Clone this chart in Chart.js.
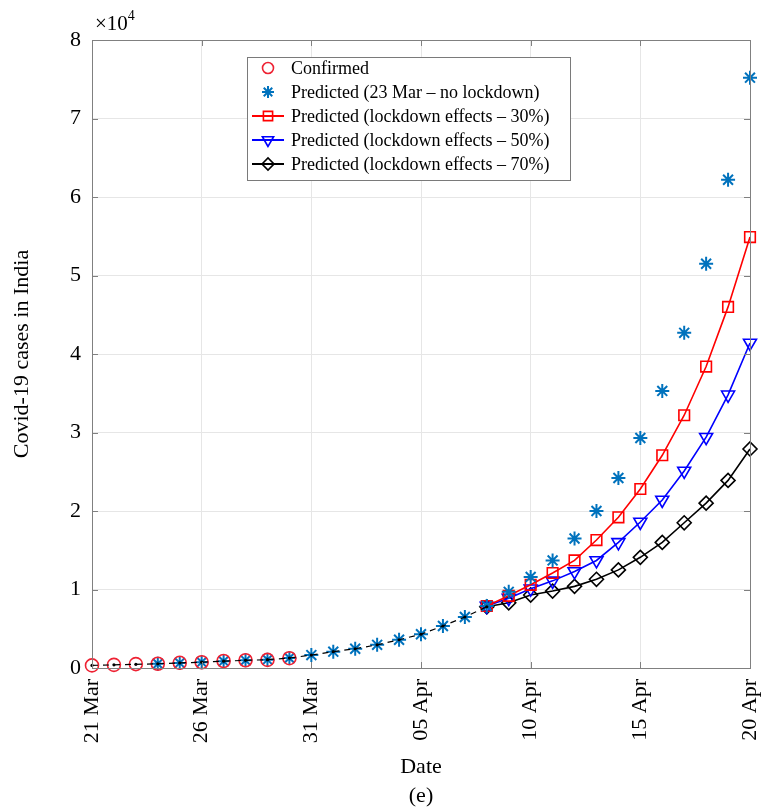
<!DOCTYPE html>
<html>
<head>
<meta charset="utf-8">
<script src="https://cdn.jsdelivr.net/npm/chart.js@4.4.1/dist/chart.umd.min.js"></script>
<style>
    html, body { margin: 0; padding: 0; background: #fff; }
    #wrap { width: 778px; height: 812px; }
</style>
</head>
<body>
<div id="wrap"><canvas id="myChart" width="778" height="812"></canvas></div>
<script>
// x = day index, 0 = 21 Mar ... 30 = 20 Apr
var tickLabels = ['21 Mar', '26 Mar', '31 Mar', '05 Apr', '10 Apr', '15 Apr', '20 Apr'];

var confirmedStart = 0;
var confirmed = [330, 400, 500, 540, 660, 730, 890, 990, 1030, 1250];

var noLockdownStart = 3;
var noLockdown = [540, 650, 740, 870, 980, 1060, 1270, 1650, 2080, 2450, 2950, 3600, 4300, 5350,
    6500, 7900, 9700, 11600, 13700, 16500, 20000, 24200, 29300, 35300, 42700, 51500, 62200, 75200];

var fitStart = 0;
var fitted = [330, 400, 470, 540, 650, 740, 870, 980, 1060, 1270, 1650, 2080, 2450, 2950, 3600,
    4300, 5350, 6500, 7800];

var lockdownStart = 18;
var lockdown30 = [7900, 9200, 10600, 12100, 13700, 16300, 19200, 22800, 27100, 32200, 38400, 46000, 54900];
var lockdown50 = [7900, 8900, 10100, 11100, 12300, 13700, 16000, 18600, 21400, 25100, 29400, 34800, 41400];
var lockdown70 = [7800, 8300, 9300, 9800, 10400, 11300, 12500, 14100, 16000, 18500, 21000, 23900, 27900];

function pts(start, values) {
    return values.map(function (v, i) { return { x: start + i, y: v }; });
}

var serif = "'Liberation Serif', 'Times New Roman', serif";
var frameColor = '#808080';

// box, inward ticks, legend and extra labels (MATLAB look)
var decor = {
    id: 'decor',
    afterDraw: function (chart) {
        var ctx = chart.ctx;
        var a = chart.chartArea;
        var xs = chart.scales.x, ys = chart.scales.y;
        ctx.save();

        ctx.strokeStyle = frameColor;
        ctx.lineWidth = 1;
        ctx.strokeRect(a.left + 0.5, a.top + 0.5, a.right - a.left, a.bottom - a.top);

        ctx.beginPath();
        xs.ticks.forEach(function (t) {
            var px = Math.round(xs.getPixelForValue(t.value)) + 0.5;
            ctx.moveTo(px, a.bottom); ctx.lineTo(px, a.bottom - 6);
            ctx.moveTo(px, a.top); ctx.lineTo(px, a.top + 6);
        });
        ys.ticks.forEach(function (t) {
            var py = Math.round(ys.getPixelForValue(t.value)) + 0.5;
            ctx.moveTo(a.left, py); ctx.lineTo(a.left + 6, py);
            ctx.moveTo(a.right, py); ctx.lineTo(a.right - 6, py);
        });
        ctx.stroke();

        // exponent label
        ctx.fillStyle = '#000';
        ctx.textBaseline = 'alphabetic';
        ctx.textAlign = 'left';
        ctx.font = '21px ' + serif;
        ctx.fillText('\u00d710', 95, 30);
        var w = ctx.measureText('\u00d710').width;
        ctx.font = '14px ' + serif;
        ctx.fillText('4', 95 + w, 20);

        // panel label
        ctx.font = '22px ' + serif;
        ctx.textAlign = 'center';
        ctx.textBaseline = 'middle';
        ctx.fillText('(e)', (a.left + a.right) / 2, 796);

        // legend
        var lx = 247, ly = 57, lw = 323, lh = 123;
        ctx.fillStyle = '#fff';
        ctx.fillRect(lx, ly, lw, lh);
        ctx.strokeStyle = '#7a7a7a';
        ctx.lineWidth = 1;
        ctx.strokeRect(lx + 0.5, ly + 0.5, lw, lh);

        var rows = chart.data.datasets.filter(function (d) { return d.label; });
        rows.forEach(function (d, i) {
            var cy = 68 + i * 24;
            if (d.showLine !== false) {
                ctx.strokeStyle = d.borderColor;
                ctx.lineWidth = 2;
                ctx.beginPath();
                ctx.moveTo(252, cy); ctx.lineTo(284, cy);
                ctx.stroke();
            }
            ctx.strokeStyle = d.pointBorderColor;
            ctx.fillStyle = 'rgba(0,0,0,0)';
            ctx.lineWidth = d.pointBorderWidth;
            Chart.helpers.drawPoint(ctx, {
                pointStyle: d.pointStyle,
                rotation: d.pointRotation || 0,
                radius: d.pointRadius - 1,
                borderWidth: d.pointBorderWidth
            }, 268, cy);
            ctx.fillStyle = '#000';
            ctx.font = '18px ' + serif;
            ctx.textAlign = 'left';
            ctx.textBaseline = 'middle';
            ctx.fillText(d.label, 291, cy + 1);
        });
        ctx.restore();
    }
};

var ctx = document.getElementById('myChart').getContext('2d');

var chart = new Chart(ctx, {
    type: 'line',
    data: {
        datasets: [
            {
                label: '',
                data: pts(fitStart, fitted),
                borderColor: '#000',
                borderWidth: 1.2,
                borderDash: [6, 5],
                pointStyle: 'circle',
                pointRadius: 1.6,
                pointBackgroundColor: '#000',
                pointBorderColor: '#000',
                pointBorderWidth: 0,
                clip: false,
            },
            {
                label: 'Confirmed',
                data: pts(confirmedStart, confirmed),
                showLine: false,
                borderColor: '#ee2233',
                pointStyle: 'circle',
                pointRadius: 6.5,
                pointBorderWidth: 1.6,
                pointBorderColor: '#ee2233',
                pointBackgroundColor: 'rgba(0,0,0,0)',
                clip: false,
            },
            {
                label: 'Predicted (23 Mar \u2013 no lockdown)',
                data: pts(noLockdownStart, noLockdown),
                showLine: false,
                borderColor: '#0072bd',
                pointStyle: 'star',
                pointRadius: 7,
                pointBorderWidth: 2,
                pointBorderColor: '#0072bd',
                pointBackgroundColor: 'rgba(0,0,0,0)',
                clip: false,
            },
            {
                label: 'Predicted (lockdown effects \u2013 30%)',
                data: pts(lockdownStart, lockdown30),
                borderColor: '#ff0000',
                borderWidth: 1.6,
                pointStyle: 'rect',
                pointRadius: 7.5,
                pointBorderWidth: 1.6,
                pointBorderColor: '#ff0000',
                pointBackgroundColor: 'rgba(0,0,0,0)',
                clip: false,
            },
            {
                label: 'Predicted (lockdown effects \u2013 50%)',
                data: pts(lockdownStart, lockdown50),
                borderColor: '#0000ff',
                borderWidth: 1.6,
                pointStyle: 'triangle',
                pointRotation: 180,
                pointRadius: 7.5,
                pointBorderWidth: 1.6,
                pointBorderColor: '#0000ff',
                pointBackgroundColor: 'rgba(0,0,0,0)',
                clip: false,
            },
            {
                label: 'Predicted (lockdown effects \u2013 70%)',
                data: pts(lockdownStart, lockdown70),
                borderColor: '#000000',
                borderWidth: 1.6,
                pointStyle: 'rectRot',
                pointRadius: 7,
                pointBorderWidth: 1.6,
                pointBorderColor: '#000000',
                pointBackgroundColor: 'rgba(0,0,0,0)',
                clip: false,
            },
        ],
    },
    options: {
        responsive: false,
        animation: false,
        layout: { padding: { top: 40, right: 28, left: 0, bottom: 0 } },
        plugins: {
            legend: { display: false },
            tooltip: { enabled: false },
        },
        scales: {
            x: {
                type: 'linear',
                min: 0,
                max: 30,
                afterFit: function (scale) {
                    scale.height = 144;
                    scale.paddingLeft = 0;
                    scale.paddingRight = 0;
                },
                grid: { color: '#e6e6e6', drawTicks: false },
                border: { display: false },
                ticks: {
                    stepSize: 5,
                    autoSkip: false,
                    minRotation: 90,
                    maxRotation: 90,
                    padding: 11,
                    color: '#000',
                    font: { family: serif, size: 22 },
                    callback: function (v) { return tickLabels[v / 5]; },
                },
                title: {
                    display: true,
                    text: 'Date',
                    color: '#000',
                    font: { family: serif, size: 22 },
                    padding: { top: 32, bottom: 32 },
                },
            },
            y: {
                min: 0,
                max: 80000,
                afterFit: function (scale) { scale.width = 92; },
                grid: { color: '#e6e6e6', drawTicks: false },
                border: { display: false },
                ticks: {
                    stepSize: 10000,
                    padding: 11,
                    color: '#000',
                    font: { family: serif, size: 22 },
                    callback: function (v) { return v / 10000; },
                },
                title: {
                    display: true,
                    text: 'Covid-19 cases in India',
                    color: '#000',
                    font: { family: serif, size: 22 },
                    padding: { top: 9, bottom: 9 },
                },
            },
        },
    },
    plugins: [decor],
});
</script>
</body>
</html>
